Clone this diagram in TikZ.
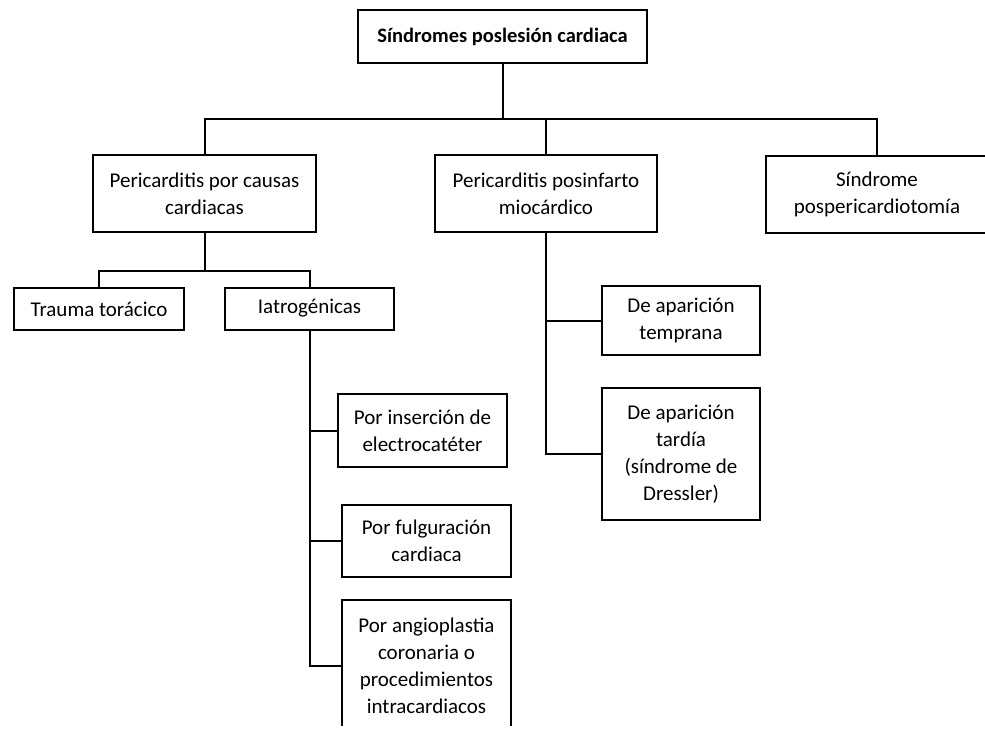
\documentclass[tikz,border=0pt]{standalone}
\usepackage{fontspec}
\setmainfont{Carlito}
\begin{document}
\begin{tikzpicture}[x=1pt,y=-1pt]
\tikzstyle{every node}=[font=\fontsize{21}{27}\selectfont]
\tikzstyle{caja}=[draw, line width=2pt, align=center, inner sep=0pt]
\tikzstyle{linea}=[line width=2pt]
\useasboundingbox (0,0) rectangle (985,730);
\clip (0,0) rectangle (985,725);

\node[caja, minimum width=289, minimum height=53, font=\bfseries\fontsize{20.5}{27}\selectfont] (sindromes) at (502.5,36.5) {Síndromes poslesión cardiaca};

\node[caja, minimum width=223, minimum height=77] (causas) at (204.5,193.5) {Pericarditis por causas\\cardiacas};
\node[caja, minimum width=222, minimum height=77] (posinf) at (546,193.5) {Pericarditis posinfarto\\miocárdico};
\node[caja, minimum width=222, minimum height=77] (pospe) at (877,194.5) {Síndrome\\pospericardiotomía};

\node[caja, minimum width=170, minimum height=42] (trauma) at (99,309) {Trauma torácico};
\node[caja, minimum width=169, minimum height=42] (iatro) at (309.5,308.5) {Iatrogénicas};

\node[caja, minimum width=158, minimum height=69] (temprana) at (681,320.5) {De aparición\\temprana};
\node[caja, minimum width=158, minimum height=132] (tardia) at (681,454) {De aparición\\tardía\\(síndrome de\\Dressler)};

\node[caja, minimum width=169, minimum height=73] (insercion) at (422.5,430.5) {Por inserción de\\electrocatéter};
\node[caja, minimum width=169, minimum height=72] (fulguracion) at (426.5,541) {Por fulguración\\cardiaca};
\node[caja, minimum width=169, minimum height=132] (angio) at (426.5,666) {Por angioplastia\\coronaria o\\procedimientos\\intracardiacos};

\coordinate (bus1) at (502.5,119);
\coordinate (bus2) at (204.5,271);

\draw[linea] (sindromes.south) -- (bus1);
\draw[linea] (causas.north) |- (bus1) -| (pospe.north);
\draw[linea] (posinf.north) -- (posinf.north |- bus1);

\draw[linea] (causas.south) -- (bus2);
\draw[linea] (trauma.north) |- (bus2) -| (iatro.north);

\draw[linea] (iatro.south) |- (angio.west);
\draw[linea] (insercion.west) -- (insercion.west -| iatro.south);
\draw[linea] (fulguracion.west) -- (fulguracion.west -| iatro.south);

\draw[linea] (posinf.south) |- (tardia.west);
\draw[linea] (temprana.west) -- (temprana.west -| posinf.south);
\end{tikzpicture}
\end{document}
